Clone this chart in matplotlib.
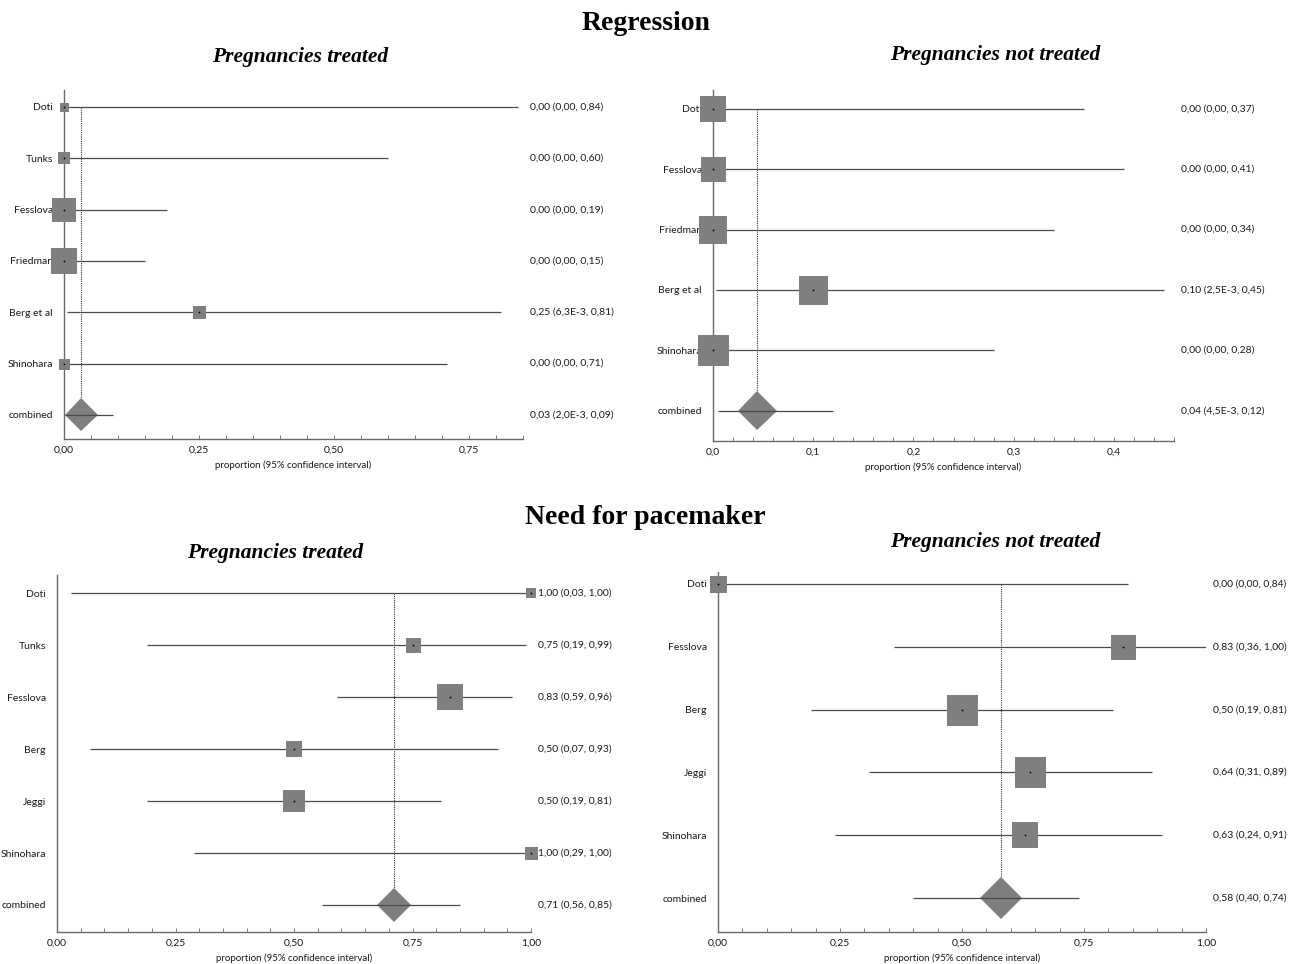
import numpy as np
import matplotlib
matplotlib.use("Agg")
import matplotlib.pyplot as plt
from matplotlib.ticker import FixedLocator, MultipleLocator, FuncFormatter

plt.rcParams["font.family"] = ["Lato", "DejaVu Sans"]

# ------------------------------------------------------------------ #
# Data
# ------------------------------------------------------------------ #

# Regression, pregnancies treated
reg_t_names = ["Doti", "Tunks", "Fesslova", "Friedman", "Berg et al", "Shinohara", "combined"]
reg_t_est = [0.00, 0.00, 0.00, 0.00, 0.25, 0.00, 0.031]
reg_t_lo = [0.00, 0.00, 0.00, 0.00, 0.0063, 0.00, 0.002]
reg_t_hi = [0.84, 0.60, 0.19, 0.15, 0.81, 0.71, 0.09]
reg_t_weight = [9, 12, 24, 26, 13, 11, 33]
reg_t_labels = ["0,00 (0,00, 0,84)", "0,00 (0,00, 0,60)", "0,00 (0,00, 0,19)",
                "0,00 (0,00, 0,15)", "0,25 (6,3E-3, 0,81)", "0,00 (0,00, 0,71)",
                "0,03 (2,0E-3, 0,09)"]

# Regression, pregnancies not treated
reg_n_names = ["Doti", "Fesslova", "Friedman", "Berg et al", "Shinohara", "combined"]
reg_n_est = [0.00, 0.00, 0.00, 0.10, 0.00, 0.044]
reg_n_lo = [0.00, 0.00, 0.00, 0.0025, 0.00, 0.0045]
reg_n_hi = [0.37, 0.41, 0.34, 0.45, 0.28, 0.12]
reg_n_weight = [27, 25, 28, 29, 31, 39]
reg_n_labels = ["0,00 (0,00, 0,37)", "0,00 (0,00, 0,41)", "0,00 (0,00, 0,34)",
                "0,10 (2,5E-3, 0,45)", "0,00 (0,00, 0,28)", "0,04 (4,5E-3, 0,12)"]

# Need for pacemaker, pregnancies treated
pm_t_names = ["Doti", "Tunks", "Fesslova", "Berg", "Jeggi", "Shinohara", "combined"]
pm_t_est = [1.00, 0.75, 0.83, 0.50, 0.50, 1.00, 0.71]
pm_t_lo = [0.03, 0.19, 0.59, 0.07, 0.19, 0.29, 0.56]
pm_t_hi = [1.00, 0.99, 0.96, 0.93, 0.81, 1.00, 0.85]
pm_t_weight = [10, 15, 27, 16, 22, 13, 34]
pm_t_labels = ["1,00 (0,03, 1,00)", "0,75 (0,19, 0,99)", "0,83 (0,59, 0,96)",
               "0,50 (0,07, 0,93)", "0,50 (0,19, 0,81)", "1,00 (0,29, 1,00)",
               "0,71 (0,56, 0,85)"]

# Need for pacemaker, pregnancies not treated
pm_n_names = ["Doti", "Fesslova", "Berg", "Jeggi", "Shinohara", "combined"]
pm_n_est = [0.00, 0.83, 0.50, 0.64, 0.63, 0.58]
pm_n_lo = [0.00, 0.36, 0.19, 0.31, 0.24, 0.40]
pm_n_hi = [0.84, 1.00, 0.81, 0.89, 0.91, 0.74]
pm_n_weight = [17, 25, 31, 31, 27, 42]
pm_n_labels = ["0,00 (0,00, 0,84)", "0,83 (0,36, 1,00)", "0,50 (0,19, 0,81)",
               "0,64 (0,31, 0,89)", "0,63 (0,24, 0,91)", "0,58 (0,40, 0,74)"]

# ------------------------------------------------------------------ #
# Layout
# ------------------------------------------------------------------ #

W, H = 1294, 964
DPI = 100
PX2PT = 72.0 / DPI

BOX = "#7f7f7f"
LINE = "#4a4a4a"
AXC = "#6a6a6a"
TXT = "#1a1a1a"


def px_rect(left, right, top, bottom):
    return [left / W, 1 - bottom / H, (right - left) / W, (bottom - top) / H]


def comma_fmt(decimals):
    return FuncFormatter(lambda v, _: f"{v:.{decimals}f}".replace(".", ","))


def forest(ax, names, est, lo, hi, weight, labels, xmax, major, minor, decimals, ylim):
    n = len(names)
    rows = np.arange(n)
    comb = n - 1

    # dotted reference line at the combined estimate
    ax.plot([est[comb], est[comb]], [0, comb], ls=(0, (1, 1)), color="#333333",
            lw=0.8, zorder=1)

    for i in rows:
        if i == comb:
            ax.plot(est[i], i, marker="D", ms=weight[i] * PX2PT / np.sqrt(2),
                    color=BOX, mew=0, zorder=2, clip_on=False)
            ax.plot([lo[i], hi[i]], [i, i], color=LINE, lw=0.9, zorder=3,
                    solid_capstyle="butt")
        else:
            ax.plot([lo[i], hi[i]], [i, i], color=LINE, lw=0.9, zorder=2,
                    solid_capstyle="butt")
            ax.plot(est[i], i, marker="s", ms=weight[i] * PX2PT, color=BOX,
                    mew=0, zorder=3, clip_on=False)
            ax.plot(est[i], i, marker="o", ms=1.3, color="black", mew=0, zorder=4,
                    clip_on=False)
        ax.annotate(labels[i], xy=(1, i), xycoords=("axes fraction", "data"),
                    xytext=(5, 0), textcoords="offset points", ha="left",
                    va="center", fontsize=7.5, color=TXT)

    ax.set_xlim(0, xmax)
    ax.set_ylim(*ylim)
    ax.set_yticks(rows)
    ax.set_yticklabels(names, fontsize=7.5, color=TXT)
    ax.tick_params(axis="y", length=0, pad=8)

    ax.xaxis.set_major_locator(FixedLocator(major))
    ax.xaxis.set_minor_locator(MultipleLocator(minor))
    ax.xaxis.set_major_formatter(comma_fmt(decimals))
    ax.tick_params(axis="x", which="both", direction="in", length=3, width=0.6,
                   colors=AXC, labelcolor=TXT, labelsize=7.5, pad=5)

    for side in ("top", "right"):
        ax.spines[side].set_visible(False)
    for side in ("left", "bottom"):
        ax.spines[side].set_color(AXC)
        ax.spines[side].set_linewidth(1.0)

    ax.set_xlabel("proportion (95% confidence interval)", fontsize=7, color=TXT,
                  labelpad=4)
    ax.patch.set_alpha(0)


fig = plt.figure(figsize=(W / DPI, H / DPI), dpi=DPI)

ax1 = fig.add_axes(px_rect(64, 523, 90, 439))
forest(ax1, reg_t_names, reg_t_est, reg_t_lo, reg_t_hi, reg_t_weight, reg_t_labels,
       0.85, [0, 0.25, 0.5, 0.75], 0.05, 2, (6.47, -0.33))

ax2 = fig.add_axes(px_rect(713, 1174, 90, 441))
forest(ax2, reg_n_names, reg_n_est, reg_n_lo, reg_n_hi, reg_n_weight, reg_n_labels,
       0.46, [0, 0.1, 0.2, 0.3, 0.4], 0.02, 1, (5.5, -0.31))

ax3 = fig.add_axes(px_rect(57, 531, 575, 932))
forest(ax3, pm_t_names, pm_t_est, pm_t_lo, pm_t_hi, pm_t_weight, pm_t_labels,
       1.0, [0, 0.25, 0.5, 0.75, 1.0], 0.05, 2, (6.52, -0.35))

ax4 = fig.add_axes(px_rect(718, 1206, 572, 932))
forest(ax4, pm_n_names, pm_n_est, pm_n_lo, pm_n_hi, pm_n_weight, pm_n_labels,
       1.0, [0, 0.25, 0.5, 0.75, 1.0], 0.05, 2, (5.54, -0.19))

serif = ["Liberation Serif", "DejaVu Serif"]


def ftext(x, y, s, size, style="normal"):
    fig.text(x / W, 1 - y / H, s, ha="center", va="center", fontsize=size,
             fontweight="bold", fontstyle=style, family=serif)


ftext(646, 24, "Regression", 20)
ftext(300, 57, "Pregnancies treated", 15.5, "italic")
ftext(995, 55, "Pregnancies not treated", 15.5, "italic")
ftext(645, 517, "Need for pacemaker", 20)
ftext(275, 553, "Pregnancies treated", 15.5, "italic")
ftext(995, 542, "Pregnancies not treated", 15.5, "italic")

fig.savefig("out.png", dpi=DPI)
